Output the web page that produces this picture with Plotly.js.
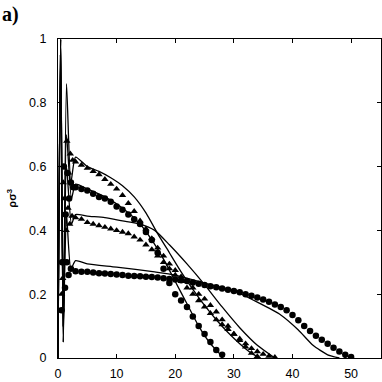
<!DOCTYPE html>
<html>
<head>
<meta charset="utf-8">
<script src="https://cdn.plot.ly/plotly-3.0.1.min.js"></script>
<style>html,body{margin:0;padding:0;background:#fff;}#chart{width:382px;height:382px;}</style>
</head>
<body>
<div id="chart"></div>
<script>
// Theory lines
const lineA_x = [0, 0.45, 0.9, 1.45, 2.2, 3, 5, 7, 9, 11, 13, 15, 17, 19, 21, 23, 25, 27, 29, 31, 33, 34.5];
const lineA_y = [0, 1.0, 0.05, 0.86, 0.55, 0.63, 0.6, 0.585, 0.565, 0.54, 0.505, 0.455, 0.39, 0.33, 0.27, 0.215, 0.165, 0.12, 0.08, 0.045, 0.015, 0];
const lineB_x = [0, 0.45, 0.9, 1.45, 2.3, 3, 5, 8, 11, 14, 16, 18, 20, 22, 24, 26, 28];
const lineB_y = [0, 1.0, 0.1, 0.7, 0.5, 0.545, 0.53, 0.505, 0.47, 0.42, 0.37, 0.31, 0.24, 0.17, 0.10, 0.045, 0.005];
const lineC_x = [0, 0.45, 0.9, 1.45, 2.3, 3, 5, 8, 11, 14, 16.5, 19, 22, 25, 28, 31, 34, 37];
const lineC_y = [0, 1.0, 0.05, 0.6, 0.42, 0.45, 0.445, 0.44, 0.43, 0.42, 0.40, 0.355, 0.295, 0.23, 0.16, 0.095, 0.04, 0];
const lineD_x = [0, 0.4, 0.9, 1.45, 2.2, 3, 5, 10, 16.5, 20, 25, 30, 34, 38, 41, 43.5, 46, 48];
const lineD_y = [0, 0.95, 0.1, 0.45, 0.28, 0.305, 0.295, 0.285, 0.27, 0.26, 0.235, 0.21, 0.175, 0.135, 0.088, 0.04, 0.01, 0];

// Simulation markers
const triA_x = [0.6, 0.9, 1.2, 1.5, 1.8, 2.1, 2.5, 3, 4, 5, 6, 7, 8, 9, 10, 11, 12, 13, 14, 15, 16, 17, 18, 19, 20, 21, 22, 23, 24, 25, 26, 27, 28, 29, 30, 31, 32, 33, 34];
const triA_y = [0.2, 0.55, 0.45, 0.68, 0.58, 0.64, 0.62, 0.615, 0.605, 0.595, 0.585, 0.575, 0.56, 0.545, 0.53, 0.51, 0.485, 0.46, 0.43, 0.405, 0.375, 0.345, 0.32, 0.295, 0.275, 0.255, 0.24, 0.22, 0.2, 0.185, 0.165, 0.145, 0.12, 0.1, 0.075, 0.055, 0.035, 0.015, 0.005];
const cirB_x = [0.7, 1.0, 1.3, 1.6, 1.9, 2.2, 2.6, 3, 4, 5, 6, 7, 8, 9, 10, 11, 12, 13, 14, 15, 16, 17, 18, 19, 20, 21, 22, 23, 24, 25, 26, 27, 28];
const cirB_y = [0.3, 0.6, 0.45, 0.58, 0.5, 0.55, 0.535, 0.535, 0.53, 0.525, 0.515, 0.505, 0.5, 0.49, 0.475, 0.465, 0.45, 0.435, 0.42, 0.395, 0.37, 0.33, 0.28, 0.235, 0.2, 0.18, 0.16, 0.13, 0.1, 0.075, 0.05, 0.025, 0.01];
const triC_x = [0.8, 1.1, 1.4, 1.7, 2.0, 2.4, 3, 4, 5, 6, 7, 8, 9, 10, 11, 12, 13, 14, 15, 16, 17, 18, 19, 20, 21, 22, 23, 24, 25, 26, 27, 28, 29, 30, 31, 32, 33, 34, 35, 36, 37];
const triC_y = [0.25, 0.5, 0.4, 0.47, 0.42, 0.445, 0.44, 0.435, 0.425, 0.42, 0.415, 0.41, 0.405, 0.4, 0.395, 0.39, 0.38, 0.37, 0.355, 0.34, 0.32, 0.3, 0.28, 0.26, 0.24, 0.22, 0.2, 0.18, 0.16, 0.14, 0.12, 0.105, 0.09, 0.075, 0.06, 0.045, 0.03, 0.02, 0.012, 0.006, 0.002];
const cirD_x = [0.6, 0.9, 1.2, 1.5, 1.8, 2.2, 3, 4, 5, 6, 7, 8, 9, 10, 11, 12, 13, 14, 15, 16, 17, 18, 19, 20, 21, 22, 23, 24, 25, 26, 27, 28, 29, 30, 31, 32, 33, 34, 35, 36, 37, 38, 39, 40, 41, 42, 43, 44, 45, 46, 47, 48, 49, 50];
const cirD_y = [0.15, 0.3, 0.22, 0.3, 0.26, 0.28, 0.272, 0.27, 0.27, 0.268, 0.266, 0.265, 0.263, 0.262, 0.26, 0.258, 0.257, 0.256, 0.255, 0.254, 0.252, 0.25, 0.248, 0.246, 0.244, 0.241, 0.237, 0.233, 0.229, 0.225, 0.222, 0.218, 0.214, 0.21, 0.206, 0.2, 0.195, 0.19, 0.183, 0.176, 0.168, 0.16, 0.15, 0.135, 0.118, 0.1, 0.085, 0.07, 0.057, 0.045, 0.032, 0.02, 0.01, 0.003];

const xTicks = [0, 10, 20, 30, 40, 50];
const yTicks = [0, 0.2, 0.4, 0.6, 0.8, 1];

function lineTrace(x, y) {
  return {x: x, y: y, type: 'scatter', mode: 'lines',
    line: {color: '#000', width: 1.3, shape: 'spline', smoothing: 0.6}, hoverinfo: 'skip'};
}
function markTrace(x, y, sym) {
  return {x: x, y: y, type: 'scatter', mode: 'markers',
    marker: {symbol: sym, size: 6.5, color: '#000', line: {width: 0}}, hoverinfo: 'skip'};
}

const data = [
  lineTrace(lineA_x, lineA_y), lineTrace(lineB_x, lineB_y), lineTrace(lineC_x, lineC_y), lineTrace(lineD_x, lineD_y),
  markTrace(triA_x, triA_y, 'triangle-up'), markTrace(cirB_x, cirB_y, 'circle'),
  markTrace(triC_x, triC_y, 'triangle-up'), markTrace(cirD_x, cirD_y, 'circle')
];

const axisCommon = {
  showgrid: false, zeroline: false, showline: true, linecolor: '#000', linewidth: 1,
  mirror: 'ticks', ticks: 'inside', ticklen: 4, tickwidth: 1, tickcolor: '#000',
  tickfont: {family: 'Liberation Sans, Arial, sans-serif', size: 12.5, color: '#000'}
};

const layout = {
  width: 382, height: 382,
  margin: {l: 58, r: 1, t: 39, b: 24},
  paper_bgcolor: '#fff', plot_bgcolor: '#fff',
  showlegend: false,
  xaxis: Object.assign({}, axisCommon, {range: [0, 55.1], tickvals: xTicks, ticktext: xTicks.map(String), ticklabelstandoff: 4}),
  yaxis: Object.assign({}, axisCommon, {range: [0, 1], tickvals: yTicks, ticktext: yTicks.map(String), ticklabelstandoff: 8}),
  annotations: [
    {text: '<b>a)</b>', xref: 'paper', yref: 'paper', x: -0.18, y: 1.118, xanchor: 'left', yanchor: 'top', showarrow: false,
     font: {family: 'Liberation Serif, Times New Roman, serif', size: 20, color: '#000'}},
    {text: '<b>ρσ<sup>3</sup></b>', xref: 'paper', yref: 'paper', x: -0.145, y: 0.5, xanchor: 'center', yanchor: 'middle', showarrow: false,
     textangle: -90, font: {family: 'Liberation Sans, Arial, sans-serif', size: 11, color: '#000'}}
  ]
};

Plotly.newPlot('chart', data, layout, {staticPlot: true, displayModeBar: false});
</script>
</body>
</html>
